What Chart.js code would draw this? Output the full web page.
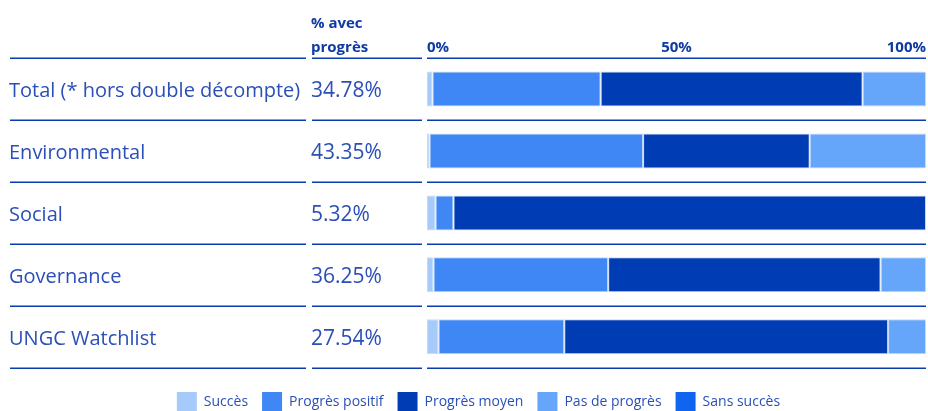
<!DOCTYPE html>
<html>
<head>
<meta charset="utf-8">
<script src="https://cdn.jsdelivr.net/npm/chart.js@4.4.1/dist/chart.umd.min.js"></script>
<style>
  html, body { margin: 0; padding: 0; background: #fff; overflow: hidden; }
  #wrap { position: relative; width: 928px; height: 422px; }
</style>
</head>
<body>
<div id="wrap"><canvas id="progressChart"></canvas></div>
<script>
// rows and values
const categories = ['Total (* hors double décompte)', 'Environmental', 'Social', 'Governance', 'UNGC Watchlist'];
const pctWithProgress = [34.78, 43.35, 5.32, 36.25, 27.54];

const succes = [1.1, 0.5, 1.7, 1.3, 2.3];
const progresPositif = [33.7, 42.8, 3.6, 35.0, 25.2];
const progresMoyen = [52.5, 33.4, 94.7, 54.6, 64.9];
const pasDeProgres = [12.7, 23.3, 0, 9.1, 7.6];
const sansSucces = [0, 0, 0, 0, 0];

const axisTicks = [0, 50, 100];

const FONT = "'Open Sans', 'Noto Sans', sans-serif";
const LINE_COLOR = '#0a3cb0';
const TEXT_COLOR = '#2a4fb8';
const HEAD_COLOR = '#0e3aa3';

const segBorder = '#c6d8f6';

function makeSet(label, data, color) {
  return {
    label: label,
    data: data,
    backgroundColor: color,
    borderColor: segBorder,
    borderWidth: 1,
    borderSkipped: false,
    barPercentage: 0.565,
    categoryPercentage: 1
  };
}

// table text, row rules and header drawn on the chart's own scales
const tablePlugin = {
  id: 'tablePlugin',
  afterDraw(chart) {
    const ctx = chart.ctx;
    const y = chart.scales.y;
    const x = chart.scales.x;
    const area = chart.chartArea;
    const band = (area.bottom - area.top) / categories.length;

    ctx.save();
    // horizontal rules
    ctx.strokeStyle = LINE_COLOR;
    ctx.lineWidth = 1.5;
    for (let i = 0; i <= categories.length; i++) {
      const ly = Math.round(area.top + i * band) + 0.25;
      [[10, 306], [312, 422], [area.left, area.right]].forEach(seg => {
        ctx.beginPath();
        ctx.moveTo(seg[0], ly);
        ctx.lineTo(seg[1], ly);
        ctx.stroke();
      });
    }

    // row labels and percentages
    ctx.fillStyle = TEXT_COLOR;
    ctx.textBaseline = 'alphabetic';
    ctx.textAlign = 'left';
    categories.forEach((cat, i) => {
      const cy = y.getPixelForValue(i) + 8;
      ctx.font = '20px ' + FONT;
      ctx.fillText(cat, 9, cy);
      ctx.font = '21px ' + FONT;
      ctx.fillText(pctWithProgress[i].toFixed(2) + '%', 311, cy);
    });

    // header
    ctx.fillStyle = HEAD_COLOR;
    ctx.font = 'bold 15px ' + FONT;
    ctx.fillText('% avec', 311, 28);
    ctx.fillText('progrès', 311, 52);
    axisTicks.forEach((t, i) => {
      ctx.textAlign = i === 0 ? 'left' : (i === axisTicks.length - 1 ? 'right' : 'center');
      ctx.fillText(t + '%', x.getPixelForValue(t), 52);
    });
    ctx.restore();
  }
};

const chartConfig = {
  type: 'bar',
  data: {
    labels: categories,
    datasets: [
      makeSet('Succès', succes, '#a6cbfb'),
      makeSet('Progrès positif', progresPositif, '#3f87f4'),
      makeSet('Progrès moyen', progresMoyen, '#003db4'),
      makeSet('Pas de progrès', pasDeProgres, '#66a6fa'),
      makeSet('Sans succès', sansSucces, '#0f64f0')
    ]
  },
  options: {
    indexAxis: 'y',
    responsive: true,
    maintainAspectRatio: false,
    animation: false,
    layout: { padding: { left: 31, right: 2, top: 58, bottom: 0 } },
    scales: {
      x: {
        display: false,
        stacked: true,
        min: 0,
        max: 100
      },
      y: {
        stacked: true,
        afterFit: scale => { scale.width = 396; },
        ticks: { display: false },
        grid: { display: false },
        border: { display: false }
      }
    },
    plugins: {
      tooltip: { enabled: false },
      legend: {
        position: 'bottom',
        title: { display: true, text: '', font: { size: 1 }, padding: { top: 9, bottom: 0 } },
        labels: {
          boxWidth: 20,
          boxHeight: 20,
          padding: 14,
          color: TEXT_COLOR,
          font: { family: FONT, size: 14 },
          generateLabels: chart =>
            Chart.defaults.plugins.legend.labels.generateLabels(chart).map(l => ({ ...l, lineWidth: 0 }))
        }
      }
    }
  },
  plugins: [tablePlugin]
};

const ctx = document.getElementById('progressChart').getContext('2d');
new Chart(ctx, chartConfig);
</script>
</body>
</html>
